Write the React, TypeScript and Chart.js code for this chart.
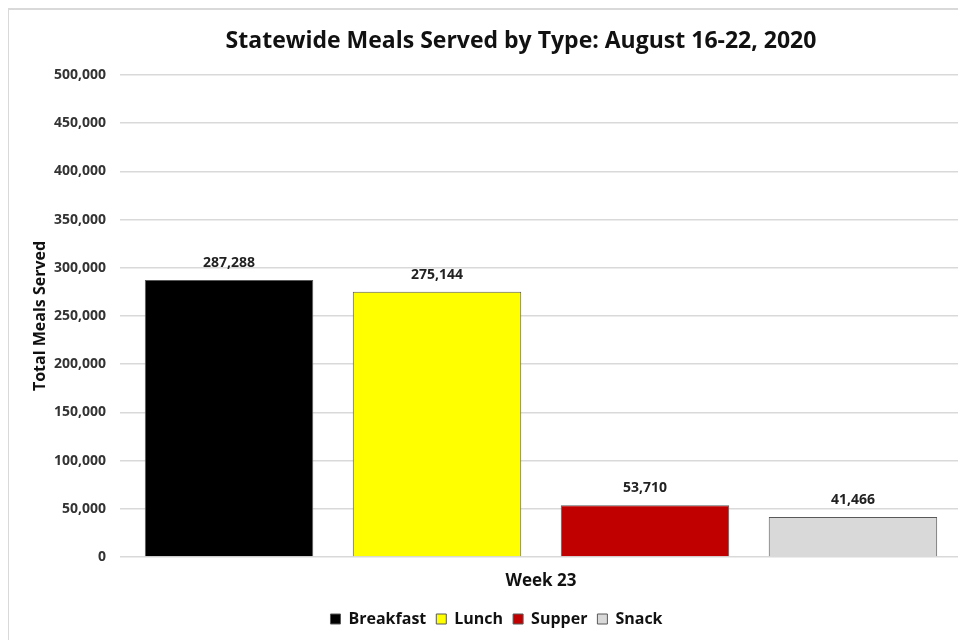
import React, { useEffect, useRef } from "react";
import { Chart, registerables } from "chart.js";

Chart.register(...registerables);

const chartTitle = "Statewide Meals Served by Type: August 16-22, 2020";
const categories = ["Week 23"];
const seriesNames = ["Breakfast", "Lunch", "Supper", "Snack"];
const breakfastValues = [287288];
const lunchValues = [275144];
const supperValues = [53710];
const snackValues = [41466];
const seriesColors = ["#000000", "#FFFF00", "#C00000", "#D9D9D9"];
const yAxisTitle = "Total Meals Served";

const FONT = "'Open Sans', 'DejaVu Sans', sans-serif";

export default function App() {
  const ref = useRef<HTMLCanvasElement | null>(null);

  useEffect(() => {
    if (!ref.current) return;
    const values = [breakfastValues, lunchValues, supperValues, snackValues];

    const framePlugin = {
      id: "frame",
      beforeDraw(chart: any) {
        const ctx = chart.ctx;
        ctx.save();
        ctx.fillStyle = "#ffffff";
        ctx.fillRect(0, 0, chart.width, chart.height);
        ctx.strokeStyle = "#d9d9d9";
        ctx.lineWidth = 2;
        ctx.beginPath();
        ctx.moveTo(0, chart.height);
        ctx.lineTo(0, 1);
        ctx.lineTo(chart.width, 1);
        ctx.stroke();
        ctx.restore();
      },
    };

    const titlePlugin = {
      id: "customTitle",
      afterDraw(chart: any) {
        const ctx = chart.ctx;
        ctx.save();
        ctx.font = `bold 23px ${FONT}`;
        ctx.fillStyle = "#111111";
        ctx.textAlign = "center";
        ctx.textBaseline = "middle";
        ctx.fillText(chartTitle, 513, 33);
        ctx.restore();
      },
    };

    const labelPlugin = {
      id: "valueLabels",
      afterDatasetsDraw(chart: any) {
        const ctx = chart.ctx;
        ctx.save();
        ctx.font = `bold 14px ${FONT}`;
        ctx.fillStyle = "#222222";
        ctx.textAlign = "center";
        ctx.textBaseline = "middle";
        chart.data.datasets.forEach((ds: any, i: number) => {
          const meta = chart.getDatasetMeta(i);
          meta.data.forEach((el: any, j: number) => {
            const v = ds.data[j] as number;
            ctx.fillText(v.toLocaleString("en-US"), el.x, el.y - 17);
          });
        });
        ctx.restore();
      },
    };

    const chart = new Chart(ref.current, {
      type: "bar",
      data: {
        labels: categories,
        datasets: seriesNames.map((name, i) => ({
          label: name,
          data: values[i],
          backgroundColor: seriesColors[i],
          borderColor: "#595959",
          borderWidth: 1,
          categoryPercentage: 0.988,
          barPercentage: 0.81,
        })),
      },
      options: {
        animation: false,
        responsive: true,
        maintainAspectRatio: false,
        layout: { padding: { left: 23, right: 4, top: 67, bottom: 3 } },
        plugins: {
          title: { display: false },
          tooltip: { enabled: false },
          legend: {
            position: "bottom",
            labels: {
              font: { family: FONT, size: 16, weight: "bold" },
              color: "#111111",
              boxWidth: 10,
              boxHeight: 10,
              padding: 10,
            },
          },
        },
        scales: {
          x: {
            grid: { display: false, drawTicks: false },
            border: { display: false },
            ticks: {
              font: { family: FONT, size: 17, weight: "bold" },
              color: "#111111",
              padding: 14,
            },
            afterFit(scale: any) {
              scale.height = 44;
            },
          },
          y: {
            min: 0,
            max: 500000,
            ticks: {
              stepSize: 50000,
              font: { family: FONT, size: 14, weight: "bold" },
              color: "#333333",
              padding: 14,
              callback: (v: any) => Number(v).toLocaleString("en-US"),
            },
            grid: { color: "#d9d9d9", lineWidth: 1.5, drawTicks: false },
            border: { display: false },
            title: {
              display: true,
              text: yAxisTitle,
              font: { family: FONT, size: 16, weight: "bold" },
              color: "#111111",
              padding: { top: 0, bottom: 0 },
            },
            afterFit(scale: any) {
              scale.width = 89;
            },
          },
        },
      },
      plugins: [framePlugin, titlePlugin, labelPlugin],
    });

    return () => chart.destroy();
  }, []);

  return (
    <div style={{ width: 958, height: 632, position: "relative" }}>
      <canvas ref={ref} />
    </div>
  );
}
